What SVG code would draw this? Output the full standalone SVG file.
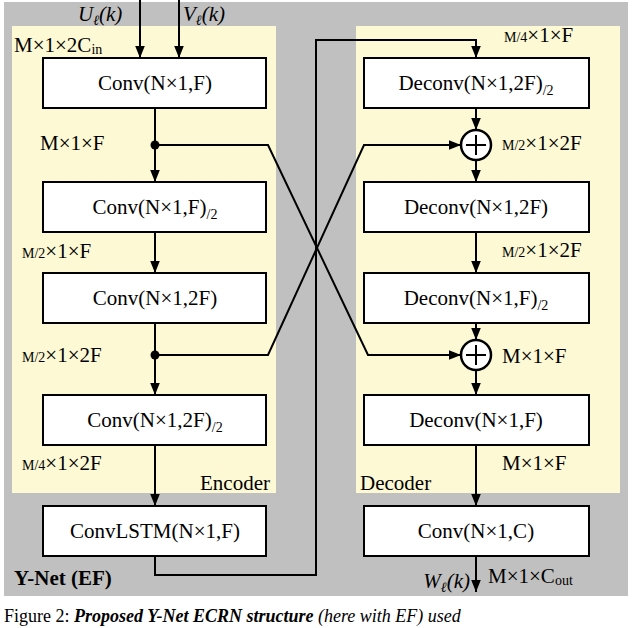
<svg xmlns="http://www.w3.org/2000/svg" width="632" height="628" viewBox="0 0 632 628">
<defs>
<marker id="ah" viewBox="0 0 10 10" refX="10" refY="5" markerWidth="6" markerHeight="6" orient="auto"><path d="M0,1 L10,5 L0,9 z" fill="#000"/></marker>
<style>
text{font-family:'Liberation Serif','Times New Roman','DejaVu Serif',serif;font-size:21px;fill:#000}
.box{fill:#fff;stroke:#000;stroke-width:2}
.ln{fill:none;stroke:#000;stroke-width:2}
.it{font-style:italic}
.sm{font-size:14px}
</style>
</defs>
<rect width="632" height="628" fill="#fff"/>
<rect x="4" y="2" width="624" height="594" fill="#c0c0c0"/>
<rect x="12" y="26" width="264" height="467" fill="#fdf9d4"/>
<rect x="356" y="26" width="264" height="467" fill="#fdf9d4"/>
<g id="connectors">
<path class="ln" marker-end="url(#ah)" d="M140,0 V58"/>
<path class="ln" marker-end="url(#ah)" d="M179,0 V58"/>
<path class="ln" marker-end="url(#ah)" d="M155,108 V182"/>
<path class="ln" marker-end="url(#ah)" d="M155,232 V273"/>
<path class="ln" marker-end="url(#ah)" d="M155,323 V395"/>
<path class="ln" marker-end="url(#ah)" d="M155,445 V506"/>
<path class="ln" marker-end="url(#ah)" d="M155,556 V575 H316 V40 H476 V58"/>
<path class="ln" marker-end="url(#ah)" d="M155,145 H268 L368,355 H461"/>
<path class="ln" marker-end="url(#ah)" d="M155,355 H268 L364,145 H461"/>
<path class="ln" marker-end="url(#ah)" d="M476,108 V130"/>
<path class="ln" marker-end="url(#ah)" d="M476,160 V182"/>
<path class="ln" marker-end="url(#ah)" d="M476,232 V273"/>
<path class="ln" marker-end="url(#ah)" d="M476,323 V340"/>
<path class="ln" marker-end="url(#ah)" d="M476,370 V395"/>
<path class="ln" marker-end="url(#ah)" d="M476,445 V506"/>
<path class="ln" marker-end="url(#ah)" d="M476,556 V592"/>
<circle cx="155" cy="145" r="4.5"/>
<circle cx="155" cy="355" r="4.5"/>
</g>
<g id="conv1"><rect class="box" x="43" y="58" width="223" height="50"/><text x="155" y="90" text-anchor="middle">Conv(N×1,F)</text></g>
<g id="conv2"><rect class="box" x="43" y="182" width="223" height="50"/><text x="155" y="214" text-anchor="middle">Conv(N×1,F)<tspan class="sm" dy="5">/2</tspan></text></g>
<g id="conv3"><rect class="box" x="43" y="273" width="223" height="50"/><text x="155" y="305" text-anchor="middle">Conv(N×1,2F)</text></g>
<g id="conv4"><rect class="box" x="43" y="395" width="223" height="50"/><text x="155" y="427" text-anchor="middle">Conv(N×1,2F)<tspan class="sm" dy="5">/2</tspan></text></g>
<g id="convlstm"><rect class="box" x="43" y="506" width="223" height="50"/><text x="155" y="538" text-anchor="middle">ConvLSTM(N×1,F)</text></g>
<g id="deconv1"><rect class="box" x="364" y="58" width="225" height="50"/><text x="476" y="90" text-anchor="middle">Deconv(N×1,2F)<tspan class="sm" dy="5">/2</tspan></text></g>
<g id="add1"><circle cx="476" cy="145" r="15" fill="#fff" stroke="#000" stroke-width="2.5"/><path class="ln" stroke-width="2.5" d="M466,145 H486 M476,135 V155"/></g>
<g id="deconv2"><rect class="box" x="364" y="182" width="225" height="50"/><text x="476" y="214" text-anchor="middle">Deconv(N×1,2F)</text></g>
<g id="deconv3"><rect class="box" x="364" y="273" width="225" height="50"/><text x="476" y="305" text-anchor="middle">Deconv(N×1,F)<tspan class="sm" dy="5">/2</tspan></text></g>
<g id="add2"><circle cx="476" cy="355" r="15" fill="#fff" stroke="#000" stroke-width="2.5"/><path class="ln" stroke-width="2.5" d="M466,355 H486 M476,345 V365"/></g>
<g id="deconv4"><rect class="box" x="364" y="395" width="225" height="50"/><text x="476" y="427" text-anchor="middle">Deconv(N×1,F)</text></g>
<g id="convout"><rect class="box" x="364" y="506" width="225" height="50"/><text x="476" y="538" text-anchor="middle">Conv(N×1,C)</text></g>
<g id="labels">
<text class="it" x="78" y="21">U<tspan class="sm" dy="4">ℓ</tspan><tspan dy="-4">(k)</tspan></text>
<text class="it" x="183" y="21">V<tspan class="sm" dy="4">ℓ</tspan><tspan dy="-4">(k)</tspan></text>
<text x="14" y="52">M×1×2C<tspan class="sm" dy="2">in</tspan></text>
<text x="40" y="150">M×1×F</text>
<text x="22" y="258"><tspan class="sm">M/2</tspan>×1×F</text>
<text x="22" y="362"><tspan class="sm">M/2</tspan>×1×2F</text>
<text x="22" y="470"><tspan class="sm">M/4</tspan>×1×2F</text>
<text x="270" y="490" text-anchor="end">Encoder</text>
<text x="504" y="42"><tspan class="sm">M/4</tspan>×1×F</text>
<text x="502" y="150"><tspan class="sm">M/2</tspan>×1×2F</text>
<text x="502" y="257"><tspan class="sm">M/2</tspan>×1×2F</text>
<text x="502" y="363">M×1×F</text>
<text x="502" y="470">M×1×F</text>
<text x="360" y="490">Decoder</text>
<text x="14" y="585" font-weight="bold">Y-Net (EF)</text>
<text class="it" x="470" y="588" text-anchor="end">W<tspan class="sm" dy="4">ℓ</tspan><tspan dy="-4">(k)</tspan></text>
<text x="488" y="583">M×1×C<tspan class="sm" dy="2">out</tspan></text>
<text x="4" y="622" style="font-size:18px">Figure 2: <tspan font-weight="bold" font-style="italic">Proposed Y-Net ECRN structure</tspan> <tspan font-style="italic">(here with EF) used</tspan></text>
</g>
</svg>
